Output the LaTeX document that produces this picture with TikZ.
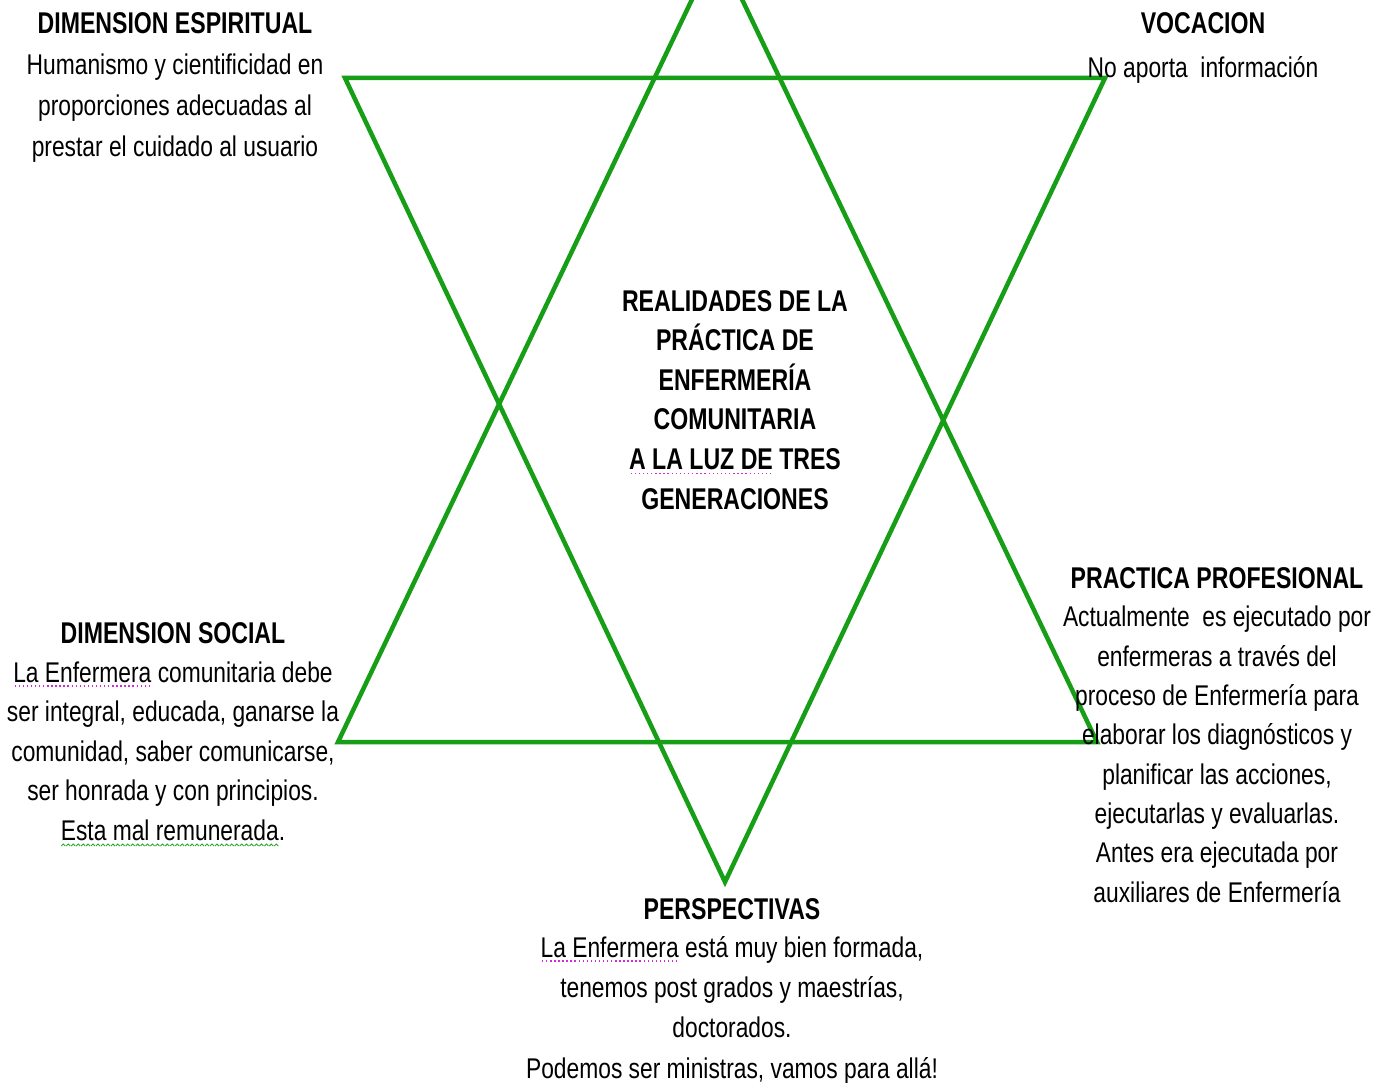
\documentclass[tikz,border=0pt]{standalone}
\usepackage{fontspec}
\setmainfont[FakeStretch=0.80]{Liberation Sans}
\newfontfamily\headfont[FakeStretch=0.77]{Liberation Sans Bold}
\definecolor{stargreen}{RGB}{22,158,22}
\definecolor{spellpink}{RGB}{214,40,214}
\definecolor{grammargreen}{RGB}{40,170,40}
% dotted and wavy proofing marks under words
\newcommand\spelldots[1]{\setbox0\hbox{#1}\rlap{\hbox to \wd0{\color{spellpink}\xleaders\hbox to 4pt{\hss\rule[-4.5pt]{1.4pt}{1.4pt}\hss}\hfill}}\box0\relax}
\newcommand\wavebit{\tikz[x=1pt,y=1pt,baseline=6pt]\draw[grammargreen,line width=0.9pt] (0,0) -- (2,2) -- (4,0);}
\newcommand\grammarwave[1]{\setbox0\hbox{#1}\rlap{\hbox to \wd0{\xleaders\hbox{\wavebit}\hfill}}\box0\relax}
\begin{document}
\begin{tikzpicture}[x=1pt,y=-1pt,
  starline/.style={draw=stargreen,line width=4.5pt,line join=miter},
  headtxt/.style={inner sep=0pt,align=center,font=\headfont\fontsize{30}{36}\selectfont},
  titletxt/.style={inner sep=0pt,align=center,font=\headfont\fontsize{30}{39.6}\selectfont},
  bodytxt/.style={inner sep=0pt,align=center,font=\fontsize{28.5}{#1}\selectfont},
  bodytxt/.default=39.5]
\useasboundingbox (0,0) rectangle (1388,1083);
% vertices of the two triangles
\coordinate (up) at (717,-53);
\coordinate (upL) at (338,742);
\coordinate (upR) at (1097,742);
\coordinate (dnL) at (345,78);
\coordinate (dnR) at (1105,78);
\coordinate (dn) at (725,882);
\draw[starline] (up) -- (upL) -- (upR) -- cycle;
\draw[starline] (dnL) -- (dnR) -- (dn) -- cycle;
% centre title (anchored on the baseline of its last line)
\node[titletxt,anchor=base] (title) at (735,509)
  {REALIDADES DE LA\\PRÁCTICA DE\\ENFERMERÍA\\COMUNITARIA\\\spelldots{A LA LUZ DE} TRES\\GENERACIONES};
% top left
\node[headtxt,anchor=base] (espH) at (175,34) {DIMENSION ESPIRITUAL};
\node[bodytxt=41,anchor=base] (espB) at (175,157)
  {Humanismo y cientificidad en\\proporciones adecuadas al\\prestar el cuidado al usuario};
% top right
\node[headtxt,anchor=base] (vocH) at (1203,34) {VOCACION};
\node[bodytxt,anchor=base] (vocB) at (1203,78) {No aporta\ \ información};
% bottom left
\node[headtxt,anchor=base] (socH) at (173,643) {DIMENSION SOCIAL};
\node[bodytxt=39.5,anchor=base] (socB) at (173,840)
  {\spelldots{La Enfermera} comunitaria debe\\ser integral, educada, ganarse la\\comunidad, saber comunicarse,\\ser honrada y con principios.\\\grammarwave{Esta mal remunerada}.};
% bottom right
\node[headtxt,anchor=base] (proH) at (1217,588) {PRACTICA PROFESIONAL};
\node[bodytxt=39.3,anchor=base] (proB) at (1217,902)
  {Actualmente\ \ es ejecutado por\\enfermeras a través del\\proceso de Enfermería para\\elaborar los diagnósticos y\\planificar las acciones,\\ejecutarlas y evaluarlas.\\Antes era ejecutada por\\auxiliares de Enfermería};
% bottom
\node[headtxt,anchor=base] (perH) at (732,919) {PERSPECTIVAS};
\node[bodytxt=40.3,anchor=base] (perB) at (732,1078)
  {\spelldots{La Enfermera} está muy bien formada,\\tenemos post grados y maestrías,\\doctorados.\\Podemos ser ministras, vamos para allá!};
\end{tikzpicture}
\end{document}
